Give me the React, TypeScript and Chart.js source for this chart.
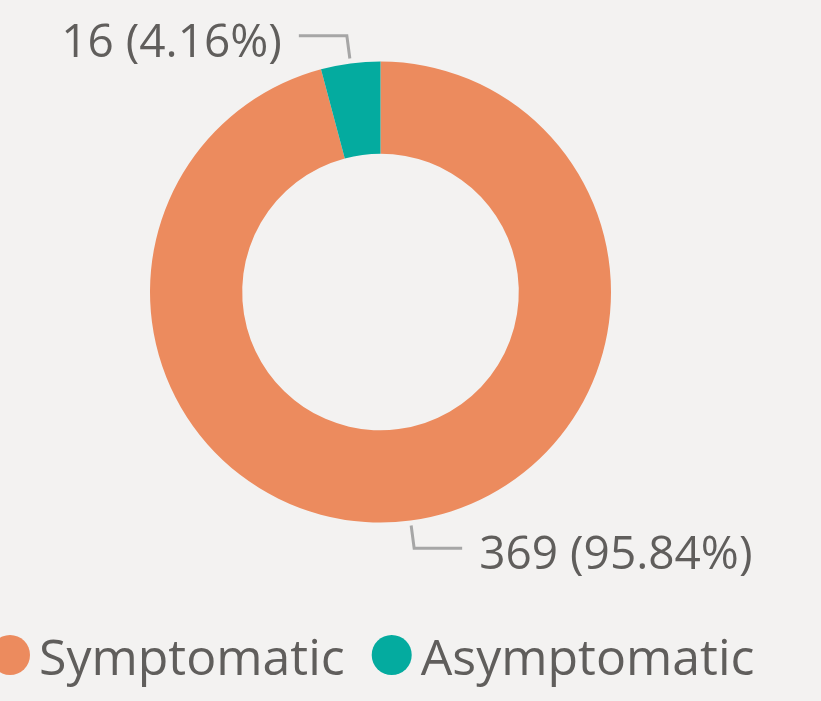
import React, { useEffect, useRef } from "react";
import { Chart, registerables } from "chart.js";

Chart.register(...registerables);

const labels = ["Symptomatic", "Asymptomatic"];
const values = [369, 16];
const colors = ["#EC8B5E", "#04AB9F"];

const BG = "#F3F2F1";
const TEXT = "#605E5C";
const FONT = "'Segoe UI', 'Open Sans', 'Noto Sans', sans-serif";

const labelPlugin = {
  id: "leaderLabels",
  afterDraw(chart: any) {
    const ctx = chart.ctx as CanvasRenderingContext2D;
    const meta = chart.getDatasetMeta(0);
    const data = chart.data.datasets[0].data as number[];
    const total = data.reduce((a, b) => a + b, 0);
    ctx.save();
    meta.data.forEach((arc: any, i: number) => {
      const p = arc.getProps(["startAngle", "endAngle", "outerRadius", "x", "y"], true);
      const mid = (p.startAngle + p.endAngle) / 2;
      const c = Math.cos(mid);
      const s = Math.sin(mid);
      const x0 = p.x + c * (p.outerRadius + 5);
      const y0 = p.y + s * (p.outerRadius + 5);
      const x1 = p.x + c * (p.outerRadius + 28);
      const y1 = p.y + s * (p.outerRadius + 28);
      const dir = c >= 0 ? 1 : -1;
      const x2 = x1 + dir * 48;
      ctx.strokeStyle = "#A6A6A6";
      ctx.lineWidth = 3;
      ctx.beginPath();
      ctx.moveTo(x0, y0);
      ctx.lineTo(x1, y1);
      ctx.lineTo(x2, y1);
      ctx.stroke();
      const pct = ((data[i] / total) * 100).toFixed(2);
      ctx.fillStyle = TEXT;
      ctx.font = `46px ${FONT}`;
      ctx.textAlign = dir > 0 ? "left" : "right";
      ctx.textBaseline = "alphabetic";
      ctx.fillText(`${data[i]} (${pct}%)`, x2 + dir * 17, y1 + 21);
    });
    // legend
    const ds = chart.data.datasets[0];
    let x = -10;
    const cy = 655;
    ctx.font = `50px ${FONT}`;
    ctx.textAlign = "left";
    chart.data.labels.forEach((lab: string, i: number) => {
      ctx.fillStyle = ds.backgroundColor[i];
      ctx.beginPath();
      ctx.arc(x + 20, cy, 20, 0, Math.PI * 2);
      ctx.fill();
      x += 49;
      ctx.fillStyle = TEXT;
      ctx.fillText(lab, x, 675);
      x += ctx.measureText(lab).width + 27;
    });
    ctx.restore();
  },
};

export default function App() {
  const ref = useRef<HTMLCanvasElement>(null);
  useEffect(() => {
    document.body.style.margin = "0";
    const chart = new Chart(ref.current!, {
      type: "doughnut",
      data: {
        labels,
        datasets: [
          {
            data: values,
            backgroundColor: colors,
            borderWidth: 0,
          },
        ],
      },
      options: {
        animation: false,
        responsive: false,
        cutout: "60%",
        layout: { padding: { top: 61, bottom: 178, left: 150, right: 210 } },
        plugins: {
          legend: { display: false },
          tooltip: { enabled: false },
        },
      },
      plugins: [labelPlugin],
    });
    return () => chart.destroy();
  }, []);
  return (
    <div style={{ position: "fixed", left: 0, top: 0, width: 821, height: 701, background: BG }}>
      <canvas ref={ref} width={821} height={701} />
    </div>
  );
}
